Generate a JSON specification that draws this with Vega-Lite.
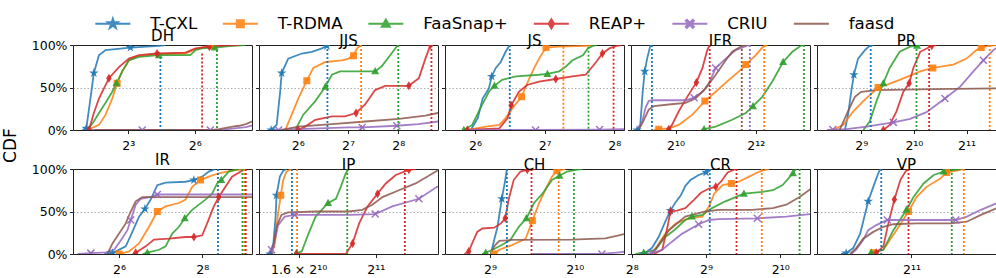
{
"$schema":"https://vega.github.io/schema/vega-lite/v6.json",
"padding":{"left":0,"top":15,"right":0,"bottom":0},
"datasets":{
"DH":[
{"series":"T-CXL","x":1.905,"cdf":0},{"series":"T-CXL","x":2.158,"cdf":0.02,"mk":1},{"series":"T-CXL","x":2.395,"cdf":0.3},{"series":"T-CXL","x":2.732,"cdf":0.67,"mk":1},{"series":"T-CXL","x":3.204,"cdf":0.88},{"series":"T-CXL","x":3.945,"cdf":0.94},{"series":"T-CXL","x":8.574,"cdf":0.97,"mk":1},{"series":"T-CXL","x":20.82,"cdf":0.99},{"series":"T-CXL","x":25.63,"cdf":1},
{"series":"T-RDMA","x":2.219,"cdf":0},{"series":"T-RDMA","x":3.204,"cdf":0.06},{"series":"T-RDMA","x":3.945,"cdf":0.18},{"series":"T-RDMA","x":4.857,"cdf":0.37},{"series":"T-RDMA","x":5.657,"cdf":0.55,"mk":1},{"series":"T-RDMA","x":6.634,"cdf":0.69},{"series":"T-RDMA","x":8.168,"cdf":0.82},{"series":"T-RDMA","x":10.06,"cdf":0.86},{"series":"T-RDMA","x":16.91,"cdf":0.89},{"series":"T-RDMA","x":47.84,"cdf":0.9},{"series":"T-RDMA","x":65.36,"cdf":0.95},{"series":"T-RDMA","x":89.26,"cdf":0.98},{"series":"T-RDMA","x":109.9,"cdf":0.99,"mk":1},{"series":"T-RDMA","x":135.3,"cdf":1},
{"series":"FaaSnap+","x":2.219,"cdf":0},{"series":"FaaSnap+","x":2.732,"cdf":0.1},{"series":"FaaSnap+","x":3.204,"cdf":0.2},{"series":"FaaSnap+","x":3.945,"cdf":0.32},{"series":"FaaSnap+","x":4.857,"cdf":0.45},{"series":"FaaSnap+","x":5.541,"cdf":0.55,"mk":1},{"series":"FaaSnap+","x":6.634,"cdf":0.69},{"series":"FaaSnap+","x":8.168,"cdf":0.82},{"series":"FaaSnap+","x":11.16,"cdf":0.86},{"series":"FaaSnap+","x":20.82,"cdf":0.88,"mk":1},{"series":"FaaSnap+","x":55.72,"cdf":0.88},{"series":"FaaSnap+","x":65.36,"cdf":0.94},{"series":"FaaSnap+","x":80.45,"cdf":0.96},{"series":"FaaSnap+","x":119.4,"cdf":0.97,"mk":1},{"series":"FaaSnap+","x":205.1,"cdf":0.99},{"series":"FaaSnap+","x":310.8,"cdf":1},
{"series":"REAP+","x":2.346,"cdf":0,"mk":1},{"series":"REAP+","x":2.732,"cdf":0.2},{"series":"REAP+","x":3.204,"cdf":0.37},{"series":"REAP+","x":4.377,"cdf":0.61,"mk":1},{"series":"REAP+","x":5.979,"cdf":0.74},{"series":"REAP+","x":8.168,"cdf":0.84},{"series":"REAP+","x":11.16,"cdf":0.88},{"series":"REAP+","x":19.7,"cdf":0.9,"mk":1},{"series":"REAP+","x":47.84,"cdf":0.91},{"series":"REAP+","x":65.36,"cdf":0.96},{"series":"REAP+","x":101.1,"cdf":0.98,"mk":1},{"series":"REAP+","x":166.6,"cdf":0.995},{"series":"REAP+","x":252.5,"cdf":1},
{"series":"CRIU","x":2.114,"cdf":0},{"series":"CRIU","x":12.38,"cdf":0,"mk":1},{"series":"CRIU","x":104,"cdf":0,"mk":1},{"series":"CRIU","x":157.6,"cdf":0.005},{"series":"CRIU","x":222.9,"cdf":0.02},{"series":"CRIU","x":315.2,"cdf":0.035},{"series":"CRIU","x":416,"cdf":0.06},
{"series":"faasd","x":2.83,"cdf":0},{"series":"faasd","x":111.4,"cdf":0},{"series":"faasd","x":137.2,"cdf":0.01},{"series":"faasd","x":168.9,"cdf":0.025},{"series":"faasd","x":207.9,"cdf":0.04},{"series":"faasd","x":256,"cdf":0.05},{"series":"faasd","x":315.2,"cdf":0.07},{"series":"faasd","x":382.7,"cdf":0.1},{"series":"faasd","x":416,"cdf":0.11}
],
"JJS":[
{"series":"T-CXL","x":44.32,"cdf":0,"mk":1},{"series":"T-CXL","x":47.84,"cdf":0.06},{"series":"T-CXL","x":50.21,"cdf":0.45},{"series":"T-CXL","x":51.27,"cdf":0.67,"mk":1},{"series":"T-CXL","x":56.11,"cdf":0.84},{"series":"T-CXL","x":67.66,"cdf":0.9},{"series":"T-CXL","x":77.71,"cdf":0.92},{"series":"T-CXL","x":89.26,"cdf":0.96},{"series":"T-CXL","x":95.67,"cdf":0.99,"mk":1},{"series":"T-CXL","x":97.68,"cdf":1},
{"series":"T-RDMA","x":53.82,"cdf":0},{"series":"T-RDMA","x":58.89,"cdf":0.18},{"series":"T-RDMA","x":64.45,"cdf":0.37},{"series":"T-RDMA","x":72.51,"cdf":0.58,"mk":1},{"series":"T-RDMA","x":79.34,"cdf":0.73},{"series":"T-RDMA","x":93.7,"cdf":0.8},{"series":"T-RDMA","x":117.8,"cdf":0.82},{"series":"T-RDMA","x":128.9,"cdf":0.84},{"series":"T-RDMA","x":138.1,"cdf":0.875,"mk":1},{"series":"T-RDMA","x":145,"cdf":0.96},{"series":"T-RDMA","x":153.3,"cdf":1},
{"series":"FaaSnap+","x":61.82,"cdf":0},{"series":"FaaSnap+","x":69.07,"cdf":0.18},{"series":"FaaSnap+","x":81.57,"cdf":0.34},{"series":"FaaSnap+","x":93.7,"cdf":0.51,"mk":1},{"series":"FaaSnap+","x":102.5,"cdf":0.65},{"series":"FaaSnap+","x":114.5,"cdf":0.69},{"series":"FaaSnap+","x":186.1,"cdf":0.69,"mk":1},{"series":"FaaSnap+","x":203.7,"cdf":0.75},{"series":"FaaSnap+","x":229.1,"cdf":0.88},{"series":"FaaSnap+","x":254.2,"cdf":1},
{"series":"REAP+","x":64.45,"cdf":0,"mk":1},{"series":"REAP+","x":71.01,"cdf":0.04},{"series":"REAP+","x":81.57,"cdf":0.12},{"series":"REAP+","x":102.5,"cdf":0.16},{"series":"REAP+","x":122.8,"cdf":0.16},{"series":"REAP+","x":143,"cdf":0.2,"mk":1},{"series":"REAP+","x":162,"cdf":0.3},{"series":"REAP+","x":186.1,"cdf":0.47},{"series":"REAP+","x":213.8,"cdf":0.52},{"series":"REAP+","x":296.1,"cdf":0.52,"mk":1},{"series":"REAP+","x":340.2,"cdf":0.61},{"series":"REAP+","x":372.2,"cdf":0.84},{"series":"REAP+","x":398.9,"cdf":1,"mk":1},
{"series":"CRIU","x":42.81,"cdf":0},{"series":"CRIU","x":49.18,"cdf":0,"mk":1},{"series":"CRIU","x":64,"cdf":0.01},{"series":"CRIU","x":128.9,"cdf":0.03},{"series":"CRIU","x":155.4,"cdf":0.03,"mk":1},{"series":"CRIU","x":250.7,"cdf":0.05,"mk":1},{"series":"CRIU","x":337.8,"cdf":0.07},{"series":"CRIU","x":442.7,"cdf":0.1},{"series":"CRIU","x":480,"cdf":0.11},
{"series":"faasd","x":51.27,"cdf":0},{"series":"faasd","x":64.45,"cdf":0.04},{"series":"faasd","x":102.5,"cdf":0.07},{"series":"faasd","x":162,"cdf":0.1},{"series":"faasd","x":257.8,"cdf":0.13},{"series":"faasd","x":372.2,"cdf":0.17},{"series":"faasd","x":442.7,"cdf":0.2},{"series":"faasd","x":480,"cdf":0.21}
],
"JS":[
{"series":"T-CXL","x":61.39,"cdf":0},{"series":"T-CXL","x":65.8,"cdf":0.14},{"series":"T-CXL","x":69.07,"cdf":0.37},{"series":"T-CXL","x":73.52,"cdf":0.49},{"series":"T-CXL","x":75.58,"cdf":0.63,"mk":1},{"series":"T-CXL","x":78.79,"cdf":0.73},{"series":"T-CXL","x":82.71,"cdf":0.8},{"series":"T-CXL","x":86.82,"cdf":0.92},{"series":"T-CXL","x":90.51,"cdf":1},
{"series":"T-RDMA","x":59.3,"cdf":0},{"series":"T-RDMA","x":71.51,"cdf":0.04},{"series":"T-RDMA","x":81.57,"cdf":0.06},{"series":"T-RDMA","x":86.82,"cdf":0.14},{"series":"T-RDMA","x":94.35,"cdf":0.28},{"series":"T-RDMA","x":101.8,"cdf":0.39,"mk":1},{"series":"T-RDMA","x":107.6,"cdf":0.55},{"series":"T-RDMA","x":115.4,"cdf":0.73},{"series":"T-RDMA","x":121.1,"cdf":0.84},{"series":"T-RDMA","x":129.8,"cdf":0.97,"mk":1},{"series":"T-RDMA","x":148.1,"cdf":0.98},{"series":"T-RDMA","x":192.7,"cdf":0.99},{"series":"T-RDMA","x":206.5,"cdf":1},
{"series":"FaaSnap+","x":57.28,"cdf":0,"mk":1},{"series":"FaaSnap+","x":62.25,"cdf":0.06},{"series":"FaaSnap+","x":67.66,"cdf":0.26},{"series":"FaaSnap+","x":73.52,"cdf":0.45},{"series":"FaaSnap+","x":77.71,"cdf":0.52,"mk":1},{"series":"FaaSnap+","x":83.87,"cdf":0.59},{"series":"FaaSnap+","x":96.34,"cdf":0.63},{"series":"FaaSnap+","x":121.1,"cdf":0.65},{"series":"FaaSnap+","x":131.6,"cdf":0.66,"mk":1},{"series":"FaaSnap+","x":148.1,"cdf":0.69},{"series":"FaaSnap+","x":158.7,"cdf":0.75},{"series":"FaaSnap+","x":168.9,"cdf":0.82},{"series":"FaaSnap+","x":187.4,"cdf":0.88},{"series":"FaaSnap+","x":196.7,"cdf":0.96},{"series":"FaaSnap+","x":206.5,"cdf":0.99},{"series":"FaaSnap+","x":215,"cdf":1},
{"series":"REAP+","x":59.3,"cdf":0,"mk":1},{"series":"REAP+","x":81.57,"cdf":0.02},{"series":"REAP+","x":88.65,"cdf":0.14},{"series":"REAP+","x":91.77,"cdf":0.29,"mk":1},{"series":"REAP+","x":99.04,"cdf":0.45},{"series":"REAP+","x":107.6,"cdf":0.53},{"series":"REAP+","x":121.1,"cdf":0.57},{"series":"REAP+","x":143,"cdf":0.6,"mk":1},{"series":"REAP+","x":168.9,"cdf":0.63},{"series":"REAP+","x":192.7,"cdf":0.65},{"series":"REAP+","x":213.8,"cdf":0.8},{"series":"REAP+","x":227.5,"cdf":0.9,"mk":1},{"series":"REAP+","x":243.8,"cdf":0.96},{"series":"REAP+","x":261.4,"cdf":0.99},{"series":"REAP+","x":274.4,"cdf":1},
{"series":"CRIU","x":59.7,"cdf":0},{"series":"CRIU","x":117,"cdf":0,"mk":1},{"series":"CRIU","x":221.3,"cdf":0.005,"mk":1},{"series":"CRIU","x":282,"cdf":0.01},{"series":"CRIU","x":315,"cdf":0.015}
],
"IFR":[
{"series":"T-CXL","x":526.5,"cdf":0,"mk":1},{"series":"T-CXL","x":556.6,"cdf":0.06},{"series":"T-CXL","x":580.1,"cdf":0.45},{"series":"T-CXL","x":600.6,"cdf":0.69,"mk":1},{"series":"T-CXL","x":626.2,"cdf":0.84},{"series":"T-CXL","x":661.5,"cdf":0.99},{"series":"T-CXL","x":680.4,"cdf":1},
{"series":"T-RDMA","x":700,"cdf":0},{"series":"T-RDMA","x":765.4,"cdf":0.01,"mk":1},{"series":"T-RDMA","x":910.3,"cdf":0.02},{"series":"T-RDMA","x":1082,"cdf":0.06},{"series":"T-RDMA","x":1370,"cdf":0.18},{"series":"T-RDMA","x":1699,"cdf":0.34,"mk":1},{"series":"T-RDMA","x":2048,"cdf":0.45},{"series":"T-RDMA","x":2574,"cdf":0.59},{"series":"T-RDMA","x":3061,"cdf":0.69},{"series":"T-RDMA","x":3444,"cdf":0.77,"mk":1},{"series":"T-RDMA","x":4096,"cdf":0.88},{"series":"T-RDMA","x":4575,"cdf":0.97},{"series":"T-RDMA","x":5010,"cdf":1},
{"series":"FaaSnap+","x":1600,"cdf":0},{"series":"FaaSnap+","x":1675,"cdf":0.01,"mk":1},{"series":"FaaSnap+","x":2048,"cdf":0.04},{"series":"FaaSnap+","x":2721,"cdf":0.12},{"series":"FaaSnap+","x":3444,"cdf":0.2},{"series":"FaaSnap+","x":3901,"cdf":0.28,"mk":1},{"series":"FaaSnap+","x":4575,"cdf":0.39},{"series":"FaaSnap+","x":5443,"cdf":0.57},{"series":"FaaSnap+","x":6562,"cdf":0.8,"mk":1},{"series":"FaaSnap+","x":7697,"cdf":0.92},{"series":"FaaSnap+","x":8905,"cdf":0.99},{"series":"FaaSnap+","x":9410,"cdf":1},
{"series":"REAP+","x":880,"cdf":0},{"series":"REAP+","x":910.3,"cdf":0.01,"mk":1},{"series":"REAP+","x":962.1,"cdf":0.06},{"series":"REAP+","x":1082,"cdf":0.22},{"series":"REAP+","x":1252,"cdf":0.39},{"series":"REAP+","x":1468,"cdf":0.56,"mk":1},{"series":"REAP+","x":1629,"cdf":0.73},{"series":"REAP+","x":1770,"cdf":0.94},{"series":"REAP+","x":1846,"cdf":1},
{"series":"CRIU","x":526.5,"cdf":0},{"series":"CRIU","x":576.1,"cdf":0.1},{"series":"CRIU","x":608.9,"cdf":0.26},{"series":"CRIU","x":643.6,"cdf":0.34},{"series":"CRIU","x":680.4,"cdf":0.35},{"series":"CRIU","x":1218,"cdf":0.35},{"series":"CRIU","x":1409,"cdf":0.38,"mk":1},{"series":"CRIU","x":1629,"cdf":0.45},{"series":"CRIU","x":1820,"cdf":0.55},{"series":"CRIU","x":2048,"cdf":0.73,"mk":1},{"series":"CRIU","x":2435,"cdf":0.84},{"series":"CRIU","x":2896,"cdf":0.94},{"series":"CRIU","x":3641,"cdf":1},
{"series":"faasd","x":541.2,"cdf":0},{"series":"faasd","x":592.3,"cdf":0.12},{"series":"faasd","x":643.6,"cdf":0.24},{"series":"faasd","x":704.3,"cdf":0.28},{"series":"faasd","x":910.3,"cdf":0.3},{"series":"faasd","x":1218,"cdf":0.32},{"series":"faasd","x":1448,"cdf":0.375},{"series":"faasd","x":1722,"cdf":0.49},{"series":"faasd","x":2048,"cdf":0.65},{"series":"faasd","x":2435,"cdf":0.82},{"series":"faasd","x":2721,"cdf":0.92},{"series":"faasd","x":3236,"cdf":0.99},{"series":"faasd","x":3444,"cdf":1}
],
"PR":[
{"series":"T-CXL","x":413,"cdf":0},{"series":"T-CXL","x":430.5,"cdf":0.18},{"series":"T-CXL","x":448.8,"cdf":0.45},{"series":"T-CXL","x":464.7,"cdf":0.65,"mk":1},{"series":"T-CXL","x":491.2,"cdf":0.84},{"series":"T-CXL","x":537.6,"cdf":0.94},{"series":"T-CXL","x":572,"cdf":0.99},{"series":"T-CXL","x":600.6,"cdf":1},
{"series":"T-RDMA","x":352.2,"cdf":0},{"series":"T-RDMA","x":404.5,"cdf":0.06},{"series":"T-RDMA","x":461.5,"cdf":0.22},{"series":"T-RDMA","x":526.5,"cdf":0.34},{"series":"T-RDMA","x":639,"cdf":0.5,"mk":1},{"series":"T-RDMA","x":714.2,"cdf":0.53},{"series":"T-RDMA","x":849.4,"cdf":0.59},{"series":"T-RDMA","x":1113,"cdf":0.69},{"series":"T-RDMA","x":1314,"cdf":0.73,"mk":1},{"series":"T-RDMA","x":1722,"cdf":0.77},{"series":"T-RDMA","x":2048,"cdf":0.84},{"series":"T-RDMA","x":2337,"cdf":0.94},{"series":"T-RDMA","x":2486,"cdf":0.97,"mk":1},{"series":"T-RDMA","x":2741,"cdf":0.99},{"series":"T-RDMA","x":3019,"cdf":1},
{"series":"FaaSnap+","x":526.5,"cdf":0},{"series":"FaaSnap+","x":572,"cdf":0.1},{"series":"FaaSnap+","x":626.2,"cdf":0.34},{"series":"FaaSnap+","x":685.1,"cdf":0.55,"mk":1},{"series":"FaaSnap+","x":744.4,"cdf":0.73},{"series":"FaaSnap+","x":849.4,"cdf":0.92},{"series":"FaaSnap+","x":975.4,"cdf":0.98},{"series":"FaaSnap+","x":1068,"cdf":0.99,"mk":1},{"series":"FaaSnap+","x":1113,"cdf":1},
{"series":"REAP+","x":685.1,"cdf":0,"mk":1},{"series":"REAP+","x":744.4,"cdf":0.06},{"series":"REAP+","x":814.6,"cdf":0.22},{"series":"REAP+","x":891.4,"cdf":0.45},{"series":"REAP+","x":962.1,"cdf":0.55,"mk":1},{"series":"REAP+","x":1017,"cdf":0.73},{"series":"REAP+","x":1113,"cdf":0.92},{"series":"REAP+","x":1269,"cdf":0.98},{"series":"REAP+","x":1296,"cdf":0.99,"mk":1},{"series":"REAP+","x":1380,"cdf":1},
{"series":"CRIU","x":326.2,"cdf":0},{"series":"CRIU","x":352.2,"cdf":0.005,"mk":1},{"series":"CRIU","x":421.6,"cdf":0.01},{"series":"CRIU","x":548.8,"cdf":0.04},{"series":"CRIU","x":781.3,"cdf":0.09,"mk":1},{"series":"CRIU","x":975.4,"cdf":0.13},{"series":"CRIU","x":1209,"cdf":0.21},{"series":"CRIU","x":1541,"cdf":0.37,"mk":1},{"series":"CRIU","x":1884,"cdf":0.51},{"series":"CRIU","x":2241,"cdf":0.69},{"series":"CRIU","x":2556,"cdf":0.82,"mk":1},{"series":"CRIU","x":2916,"cdf":0.94},{"series":"CRIU","x":3214,"cdf":1},
{"series":"faasd","x":385.3,"cdf":0},{"series":"faasd","x":421.6,"cdf":0.18},{"series":"faasd","x":471.1,"cdf":0.39},{"series":"faasd","x":512,"cdf":0.45},{"series":"faasd","x":626.2,"cdf":0.47},{"series":"faasd","x":1323,"cdf":0.48},{"series":"faasd","x":3019,"cdf":0.49},{"series":"faasd","x":3327,"cdf":0.49}
],
"IR":[
{"series":"T-CXL","x":50,"cdf":0},{"series":"T-CXL","x":57.28,"cdf":0.01,"mk":1},{"series":"T-CXL","x":71.51,"cdf":0.09},{"series":"T-CXL","x":79.89,"cdf":0.26},{"series":"T-CXL","x":89.26,"cdf":0.44},{"series":"T-CXL","x":98.37,"cdf":0.53,"mk":1},{"series":"T-CXL","x":108.4,"cdf":0.64},{"series":"T-CXL","x":121.1,"cdf":0.81},{"series":"T-CXL","x":139.1,"cdf":0.84},{"series":"T-CXL","x":194,"cdf":0.85},{"series":"T-CXL","x":222.9,"cdf":0.87,"mk":1},{"series":"T-CXL","x":256,"cdf":0.91},{"series":"T-CXL","x":286,"cdf":0.97},{"series":"T-CXL","x":319.6,"cdf":1},
{"series":"T-RDMA","x":64,"cdf":0,"mk":1},{"series":"T-RDMA","x":75.58,"cdf":0.03},{"series":"T-RDMA","x":89.26,"cdf":0.125},{"series":"T-RDMA","x":105.4,"cdf":0.32},{"series":"T-RDMA","x":121.1,"cdf":0.5,"mk":1},{"series":"T-RDMA","x":139.1,"cdf":0.56},{"series":"T-RDMA","x":173.7,"cdf":0.6},{"series":"T-RDMA","x":194,"cdf":0.64},{"series":"T-RDMA","x":216.7,"cdf":0.79},{"series":"T-RDMA","x":249,"cdf":0.87,"mk":1},{"series":"T-RDMA","x":286,"cdf":0.91},{"series":"T-RDMA","x":337.8,"cdf":0.95},{"series":"T-RDMA","x":421.6,"cdf":0.98},{"series":"T-RDMA","x":526.5,"cdf":1},
{"series":"FaaSnap+","x":95,"cdf":0},{"series":"FaaSnap+","x":102.5,"cdf":0.015,"mk":1},{"series":"FaaSnap+","x":124.5,"cdf":0.05},{"series":"FaaSnap+","x":139.1,"cdf":0.09},{"series":"FaaSnap+","x":155.4,"cdf":0.24},{"series":"FaaSnap+","x":173.7,"cdf":0.32},{"series":"FaaSnap+","x":191.4,"cdf":0.42,"mk":1},{"series":"FaaSnap+","x":216.7,"cdf":0.52},{"series":"FaaSnap+","x":270.6,"cdf":0.64},{"series":"FaaSnap+","x":302.3,"cdf":0.71},{"series":"FaaSnap+","x":328.6,"cdf":0.83},{"series":"FaaSnap+","x":352.2,"cdf":0.87,"mk":1},{"series":"FaaSnap+","x":398.9,"cdf":0.97},{"series":"FaaSnap+","x":471.1,"cdf":1},
{"series":"REAP+","x":80,"cdf":0},{"series":"REAP+","x":84.45,"cdf":0.015,"mk":1},{"series":"REAP+","x":99.74,"cdf":0.09},{"series":"REAP+","x":114.5,"cdf":0.17},{"series":"REAP+","x":147,"cdf":0.18},{"series":"REAP+","x":194,"cdf":0.2},{"series":"REAP+","x":222.9,"cdf":0.2,"mk":1},{"series":"REAP+","x":256,"cdf":0.22},{"series":"REAP+","x":278.2,"cdf":0.36},{"series":"REAP+","x":310.8,"cdf":0.56},{"series":"REAP+","x":337.8,"cdf":0.67,"mk":1},{"series":"REAP+","x":377.4,"cdf":0.79},{"series":"REAP+","x":421.6,"cdf":0.91},{"series":"REAP+","x":498,"cdf":0.98},{"series":"REAP+","x":526.5,"cdf":1},
{"series":"CRIU","x":32,"cdf":0},{"series":"CRIU","x":39.94,"cdf":0.01,"mk":1},{"series":"CRIU","x":51.27,"cdf":0.02},{"series":"CRIU","x":58.89,"cdf":0.05},{"series":"CRIU","x":65.8,"cdf":0.16},{"series":"CRIU","x":73.52,"cdf":0.28},{"series":"CRIU","x":77.71,"cdf":0.4,"mk":1},{"series":"CRIU","x":84.45,"cdf":0.58},{"series":"CRIU","x":91.77,"cdf":0.65},{"series":"CRIU","x":111.4,"cdf":0.675},{"series":"CRIU","x":121.1,"cdf":0.7,"mk":1},{"series":"CRIU","x":588.1,"cdf":0.7},{"series":"CRIU","x":675.6,"cdf":0.7},
{"series":"faasd","x":52.71,"cdf":0},{"series":"faasd","x":57.28,"cdf":0.125},{"series":"faasd","x":64,"cdf":0.24},{"series":"faasd","x":71.51,"cdf":0.36},{"series":"faasd","x":77.71,"cdf":0.5},{"series":"faasd","x":84.45,"cdf":0.62},{"series":"faasd","x":94.35,"cdf":0.67},{"series":"faasd","x":675.6,"cdf":0.67}
],
"IP":[
{"series":"T-CXL","x":1508,"cdf":0,"mk":1},{"series":"T-CXL","x":1523,"cdf":0.125},{"series":"T-CXL","x":1533,"cdf":0.44},{"series":"T-CXL","x":1537,"cdf":0.69,"mk":1},{"series":"T-CXL","x":1552,"cdf":0.91},{"series":"T-CXL","x":1567,"cdf":0.98},{"series":"T-CXL","x":1582,"cdf":1},
{"series":"T-RDMA","x":1515,"cdf":0},{"series":"T-RDMA","x":1530,"cdf":0.125},{"series":"T-RDMA","x":1542,"cdf":0.44},{"series":"T-RDMA","x":1556,"cdf":0.69,"mk":1},{"series":"T-RDMA","x":1567,"cdf":0.87},{"series":"T-RDMA","x":1582,"cdf":0.97},{"series":"T-RDMA","x":1605,"cdf":1},
{"series":"FaaSnap+","x":1620,"cdf":0},{"series":"FaaSnap+","x":1628,"cdf":0.01,"mk":1},{"series":"FaaSnap+","x":1653,"cdf":0.03},{"series":"FaaSnap+","x":1686,"cdf":0.24},{"series":"FaaSnap+","x":1721,"cdf":0.44},{"series":"FaaSnap+","x":1784,"cdf":0.6,"mk":1},{"series":"FaaSnap+","x":1825,"cdf":0.65},{"series":"FaaSnap+","x":1851,"cdf":0.79},{"series":"FaaSnap+","x":1878,"cdf":0.95},{"series":"FaaSnap+","x":1893,"cdf":1},
{"series":"REAP+","x":1628,"cdf":0,"mk":1},{"series":"REAP+","x":1721,"cdf":0},{"series":"REAP+","x":1878,"cdf":0},{"series":"REAP+","x":1915,"cdf":0.125,"mk":1},{"series":"REAP+","x":1952,"cdf":0.36},{"series":"REAP+","x":2000,"cdf":0.56},{"series":"REAP+","x":2059,"cdf":0.71,"mk":1},{"series":"REAP+","x":2108,"cdf":0.83},{"series":"REAP+","x":2170,"cdf":0.93},{"series":"REAP+","x":2254,"cdf":0.99,"mk":1},{"series":"REAP+","x":2298,"cdf":1},
{"series":"CRIU","x":1500,"cdf":0},{"series":"CRIU","x":1515,"cdf":0.05,"mk":1},{"series":"CRIU","x":1530,"cdf":0.165},{"series":"CRIU","x":1544,"cdf":0.34},{"series":"CRIU","x":1574,"cdf":0.44},{"series":"CRIU","x":1620,"cdf":0.46,"mk":1},{"series":"CRIU","x":1895,"cdf":0.46},{"series":"CRIU","x":2045,"cdf":0.47,"mk":1},{"series":"CRIU","x":2148,"cdf":0.56},{"series":"CRIU","x":2320,"cdf":0.65,"mk":1},{"series":"CRIU","x":2446,"cdf":0.79},{"series":"CRIU","x":2500,"cdf":0.82},
{"series":"faasd","x":1508,"cdf":0},{"series":"faasd","x":1523,"cdf":0.09},{"series":"faasd","x":1537,"cdf":0.32},{"series":"faasd","x":1559,"cdf":0.46},{"series":"faasd","x":1589,"cdf":0.49},{"series":"faasd","x":1721,"cdf":0.5},{"series":"faasd","x":1895,"cdf":0.5},{"series":"faasd","x":1969,"cdf":0.52},{"series":"faasd","x":2028,"cdf":0.58},{"series":"faasd","x":2088,"cdf":0.67},{"series":"faasd","x":2190,"cdf":0.75},{"series":"faasd","x":2298,"cdf":0.83},{"series":"faasd","x":2446,"cdf":0.98},{"series":"faasd","x":2480,"cdf":1}
],
"CH":[
{"series":"T-CXL","x":515.6,"cdf":0},{"series":"T-CXL","x":529.9,"cdf":0.165},{"series":"T-CXL","x":544.7,"cdf":0.32},{"series":"T-CXL","x":564.1,"cdf":0.65,"mk":1},{"series":"T-CXL","x":580.1,"cdf":0.87},{"series":"T-CXL","x":588.1,"cdf":1},
{"series":"T-RDMA","x":529.9,"cdf":0,"mk":1},{"series":"T-RDMA","x":552.5,"cdf":0.05},{"series":"T-RDMA","x":613,"cdf":0.105},{"series":"T-RDMA","x":685.1,"cdf":0.18},{"series":"T-RDMA","x":724.1,"cdf":0.39,"mk":1},{"series":"T-RDMA","x":765.4,"cdf":0.6},{"series":"T-RDMA","x":803.5,"cdf":0.75},{"series":"T-RDMA","x":849.4,"cdf":0.91},{"series":"T-RDMA","x":885.3,"cdf":0.98,"mk":1},{"series":"T-RDMA","x":948.9,"cdf":1},
{"series":"FaaSnap+","x":480,"cdf":0},{"series":"FaaSnap+","x":494.5,"cdf":0.015,"mk":1},{"series":"FaaSnap+","x":522.8,"cdf":0.05},{"series":"FaaSnap+","x":564.1,"cdf":0.105},{"series":"FaaSnap+","x":604.7,"cdf":0.165},{"series":"FaaSnap+","x":648.2,"cdf":0.32},{"series":"FaaSnap+","x":689.8,"cdf":0.42,"mk":1},{"series":"FaaSnap+","x":734,"cdf":0.6},{"series":"FaaSnap+","x":786.7,"cdf":0.71},{"series":"FaaSnap+","x":849.4,"cdf":0.87},{"series":"FaaSnap+","x":903.8,"cdf":0.92,"mk":1},{"series":"FaaSnap+","x":962.1,"cdf":0.97},{"series":"FaaSnap+","x":1031,"cdf":0.99},{"series":"FaaSnap+","x":1090,"cdf":1},
{"series":"REAP+","x":416,"cdf":0},{"series":"REAP+","x":430.5,"cdf":0.03,"mk":1},{"series":"REAP+","x":442.7,"cdf":0.125},{"series":"REAP+","x":461.5,"cdf":0.26},{"series":"REAP+","x":481,"cdf":0.3},{"series":"REAP+","x":529.9,"cdf":0.31},{"series":"REAP+","x":560.2,"cdf":0.36},{"series":"REAP+","x":580.1,"cdf":0.42,"mk":1},{"series":"REAP+","x":596.5,"cdf":0.64},{"series":"REAP+","x":621.6,"cdf":0.87},{"series":"REAP+","x":657.1,"cdf":0.97},{"series":"REAP+","x":694.6,"cdf":0.99,"mk":1},{"series":"REAP+","x":744.4,"cdf":1},
{"series":"CRIU","x":724.1,"cdf":0},{"series":"CRIU","x":1278,"cdf":0,"mk":1},{"series":"CRIU","x":1468,"cdf":0.02},{"series":"CRIU","x":1664,"cdf":0.04},
{"series":"faasd","x":515.6,"cdf":0},{"series":"faasd","x":529.9,"cdf":0.09},{"series":"faasd","x":552.5,"cdf":0.155},{"series":"faasd","x":613,"cdf":0.165},{"series":"faasd","x":1003,"cdf":0.17},{"series":"faasd","x":1314,"cdf":0.185},{"series":"faasd","x":1468,"cdf":0.22},{"series":"faasd","x":1531,"cdf":0.235},{"series":"faasd","x":1664,"cdf":0.25}
],
"CR":[
{"series":"T-CXL","x":286,"cdf":0,"mk":1},{"series":"T-CXL","x":308.7,"cdf":0.07},{"series":"T-CXL","x":328.6,"cdf":0.2},{"series":"T-CXL","x":349.8,"cdf":0.38},{"series":"T-CXL","x":367.1,"cdf":0.51,"mk":1},{"series":"T-CXL","x":385.3,"cdf":0.61},{"series":"T-CXL","x":404.5,"cdf":0.69},{"series":"T-CXL","x":421.6,"cdf":0.8},{"series":"T-CXL","x":442.7,"cdf":0.87},{"series":"T-CXL","x":477.7,"cdf":0.93},{"series":"T-CXL","x":512,"cdf":0.96,"mk":1},{"series":"T-CXL","x":526.5,"cdf":0.99},{"series":"T-CXL","x":537.6,"cdf":1},
{"series":"T-RDMA","x":304.4,"cdf":0},{"series":"T-RDMA","x":324.1,"cdf":0.09},{"series":"T-RDMA","x":349.8,"cdf":0.24},{"series":"T-RDMA","x":385.3,"cdf":0.36},{"series":"T-RDMA","x":436.5,"cdf":0.42},{"series":"T-RDMA","x":494.5,"cdf":0.44},{"series":"T-RDMA","x":526.5,"cdf":0.56},{"series":"T-RDMA","x":552.5,"cdf":0.71},{"series":"T-RDMA","x":596.5,"cdf":0.81},{"series":"T-RDMA","x":648.2,"cdf":0.83,"mk":1},{"series":"T-RDMA","x":694.6,"cdf":0.85},{"series":"T-RDMA","x":765.4,"cdf":0.91},{"series":"T-RDMA","x":843.3,"cdf":0.97},{"series":"T-RDMA","x":923.1,"cdf":1},
{"series":"FaaSnap+","x":265,"cdf":0},{"series":"FaaSnap+","x":286,"cdf":0.015,"mk":1},{"series":"FaaSnap+","x":319.6,"cdf":0.05},{"series":"FaaSnap+","x":349.8,"cdf":0.2},{"series":"FaaSnap+","x":380,"cdf":0.28},{"series":"FaaSnap+","x":421.6,"cdf":0.4},{"series":"FaaSnap+","x":448.8,"cdf":0.44,"mk":1},{"series":"FaaSnap+","x":494.5,"cdf":0.46},{"series":"FaaSnap+","x":541.2,"cdf":0.54},{"series":"FaaSnap+","x":613,"cdf":0.62},{"series":"FaaSnap+","x":729.1,"cdf":0.71,"mk":1},{"series":"FaaSnap+","x":866.8,"cdf":0.73},{"series":"FaaSnap+","x":955.4,"cdf":0.75},{"series":"FaaSnap+","x":1046,"cdf":0.81},{"series":"FaaSnap+","x":1152,"cdf":0.95,"mk":1},{"series":"FaaSnap+","x":1185,"cdf":1},
{"series":"REAP+","x":315.2,"cdf":0},{"series":"REAP+","x":340.2,"cdf":0.05},{"series":"REAP+","x":357.2,"cdf":0.32},{"series":"REAP+","x":367.1,"cdf":0.5,"mk":1},{"series":"REAP+","x":390.7,"cdf":0.51},{"series":"REAP+","x":421.6,"cdf":0.54},{"series":"REAP+","x":458.3,"cdf":0.64},{"series":"REAP+","x":487.7,"cdf":0.72},{"series":"REAP+","x":526.5,"cdf":0.77},{"series":"REAP+","x":560.2,"cdf":0.79,"mk":1},{"series":"REAP+","x":588.1,"cdf":0.85},{"series":"REAP+","x":626.2,"cdf":0.96},{"series":"REAP+","x":675.6,"cdf":1},
{"series":"CRIU","x":294,"cdf":0},{"series":"CRIU","x":308.7,"cdf":0.01,"mk":1},{"series":"CRIU","x":340.2,"cdf":0.05},{"series":"CRIU","x":372.2,"cdf":0.145},{"series":"CRIU","x":410.1,"cdf":0.24},{"series":"CRIU","x":477.7,"cdf":0.35,"mk":1},{"series":"CRIU","x":526.5,"cdf":0.4},{"series":"CRIU","x":576.1,"cdf":0.41},{"series":"CRIU","x":826,"cdf":0.42,"mk":1},{"series":"CRIU","x":1082,"cdf":0.44},{"series":"CRIU","x":1351,"cdf":0.47},{"series":"CRIU","x":1448,"cdf":0.48},
{"series":"faasd","x":308.7,"cdf":0},{"series":"faasd","x":328.6,"cdf":0.11},{"series":"faasd","x":362,"cdf":0.28},{"series":"faasd","x":421.6,"cdf":0.44},{"series":"faasd","x":508.4,"cdf":0.5},{"series":"faasd","x":576.1,"cdf":0.52},{"series":"faasd","x":786.7,"cdf":0.52},{"series":"faasd","x":955.4,"cdf":0.54},{"series":"faasd","x":1082,"cdf":0.58},{"series":"faasd","x":1226,"cdf":0.67},{"series":"faasd","x":1351,"cdf":0.76},{"series":"faasd","x":1448,"cdf":0.82}
],
"VP":[
{"series":"T-CXL","x":1261,"cdf":0},{"series":"T-CXL","x":1305,"cdf":0.01,"mk":1},{"series":"T-CXL","x":1370,"cdf":0.07},{"series":"T-CXL","x":1438,"cdf":0.24},{"series":"T-CXL","x":1520,"cdf":0.62,"mk":1},{"series":"T-CXL","x":1574,"cdf":0.79},{"series":"T-CXL","x":1629,"cdf":0.95},{"series":"T-CXL","x":1652,"cdf":1},
{"series":"T-RDMA","x":1540,"cdf":0},{"series":"T-RDMA","x":1574,"cdf":0.015,"mk":1},{"series":"T-RDMA","x":1687,"cdf":0.05},{"series":"T-RDMA","x":1846,"cdf":0.28},{"series":"T-RDMA","x":2006,"cdf":0.5,"mk":1},{"series":"T-RDMA","x":2120,"cdf":0.67},{"series":"T-RDMA","x":2273,"cdf":0.79},{"series":"T-RDMA","x":2505,"cdf":0.89},{"series":"T-RDMA","x":2610,"cdf":0.96,"mk":1},{"series":"T-RDMA","x":2797,"cdf":0.98},{"series":"T-RDMA","x":2937,"cdf":1},
{"series":"FaaSnap+","x":1520,"cdf":0},{"series":"FaaSnap+","x":1552,"cdf":0.015,"mk":1},{"series":"FaaSnap+","x":1687,"cdf":0.05},{"series":"FaaSnap+","x":1808,"cdf":0.28},{"series":"FaaSnap+","x":1978,"cdf":0.52,"mk":1},{"series":"FaaSnap+","x":2077,"cdf":0.67},{"series":"FaaSnap+","x":2226,"cdf":0.83},{"series":"FaaSnap+","x":2386,"cdf":0.93},{"series":"FaaSnap+","x":2556,"cdf":0.97,"mk":1},{"series":"FaaSnap+","x":2741,"cdf":0.99},{"series":"FaaSnap+","x":2876,"cdf":1},
{"series":"REAP+","x":1552,"cdf":0},{"series":"REAP+","x":1607,"cdf":0.015,"mk":1},{"series":"REAP+","x":1687,"cdf":0.09},{"series":"REAP+","x":1746,"cdf":0.36},{"series":"REAP+","x":1820,"cdf":0.64,"mk":1},{"series":"REAP+","x":1897,"cdf":0.87},{"series":"REAP+","x":1965,"cdf":0.97},{"series":"REAP+","x":2006,"cdf":1},
{"series":"CRIU","x":1351,"cdf":0},{"series":"CRIU","x":1399,"cdf":0.05},{"series":"CRIU","x":1468,"cdf":0.165},{"series":"CRIU","x":1520,"cdf":0.28},{"series":"CRIU","x":1607,"cdf":0.34},{"series":"CRIU","x":1734,"cdf":0.4,"mk":1},{"series":"CRIU","x":1897,"cdf":0.4},{"series":"CRIU","x":2386,"cdf":0.4},{"series":"CRIU","x":2779,"cdf":0.4,"mk":1},{"series":"CRIU","x":2998,"cdf":0.44},{"series":"CRIU","x":3304,"cdf":0.52},{"series":"CRIU","x":3692,"cdf":0.6},{"series":"CRIU","x":3957,"cdf":0.63},
{"series":"faasd","x":1342,"cdf":0},{"series":"faasd","x":1399,"cdf":0.07},{"series":"faasd","x":1468,"cdf":0.18},{"series":"faasd","x":1574,"cdf":0.26},{"series":"faasd","x":1687,"cdf":0.32},{"series":"faasd","x":1808,"cdf":0.35},{"series":"faasd","x":2120,"cdf":0.36},{"series":"faasd","x":2684,"cdf":0.36},{"series":"faasd","x":2998,"cdf":0.38},{"series":"faasd","x":3304,"cdf":0.46},{"series":"faasd","x":3692,"cdf":0.54},{"series":"faasd","x":3957,"cdf":0.58}
],
"vlines":[
{"panel":"DH","series":"T-CXL","x":21.86,"top":0.86},{"panel":"DH","series":"REAP+","x":80.45,"top":0.9},{"panel":"DH","series":"FaaSnap+","x":128,"top":0.94},
{"panel":"JJS","series":"T-CXL","x":96.34,"top":1},{"panel":"JJS","series":"T-RDMA","x":153.3,"top":1},{"panel":"JJS","series":"FaaSnap+","x":256,"top":1},{"panel":"JJS","series":"REAP+","x":404.5,"top":1},
{"panel":"JS","series":"T-CXL","x":90.51,"top":1},{"panel":"JS","series":"T-RDMA","x":154.3,"top":0.98},{"panel":"JS","series":"FaaSnap+","x":198.1,"top":0.98},{"panel":"JS","series":"REAP+","x":254.2,"top":0.98},
{"panel":"IFR","series":"T-CXL","x":680.4,"top":1},{"panel":"IFR","series":"REAP+","x":1846,"top":1},{"panel":"IFR","series":"faasd","x":3214,"top":1},{"panel":"IFR","series":"CRIU","x":3692,"top":1},{"panel":"IFR","series":"T-RDMA","x":4735,"top":1},{"panel":"IFR","series":"FaaSnap+","x":9410,"top":1},
{"panel":"PR","series":"T-CXL","x":580.1,"top":1},{"panel":"PR","series":"FaaSnap+","x":1060,"top":1},{"panel":"PR","series":"REAP+","x":1252,"top":1},{"panel":"PR","series":"T-RDMA","x":2779,"top":1},
{"panel":"IR","series":"T-CXL","x":333.2,"top":1},{"panel":"IR","series":"FaaSnap+","x":501.5,"top":1},{"panel":"IR","series":"T-RDMA","x":515.6,"top":1},{"panel":"IR","series":"REAP+","x":529.9,"top":1},
{"panel":"IP","series":"T-CXL","x":1607,"top":1},{"panel":"IP","series":"T-RDMA","x":1631,"top":1},{"panel":"IP","series":"FaaSnap+","x":1886,"top":1},{"panel":"IP","series":"REAP+","x":2228,"top":1},
{"panel":"CH","series":"T-CXL","x":588.1,"top":1},{"panel":"CH","series":"REAP+","x":719,"top":1},{"panel":"CH","series":"T-RDMA","x":897.7,"top":1},{"panel":"CH","series":"FaaSnap+","x":1017,"top":1},
{"panel":"CR","series":"T-CXL","x":529.9,"top":1},{"panel":"CR","series":"REAP+","x":680.4,"top":1},{"panel":"CR","series":"T-RDMA","x":861.1,"top":1},{"panel":"CR","series":"FaaSnap+","x":1226,"top":1},
{"panel":"VP","series":"T-CXL","x":1663,"top":1},{"panel":"VP","series":"REAP+","x":2006,"top":1},{"panel":"VP","series":"FaaSnap+","x":2703,"top":1},{"panel":"VP","series":"T-RDMA","x":2937,"top":1}
]
},
"config":{
"font":"DejaVu Sans",
"view":{"stroke":"#222","strokeWidth":1},
"axis":{"domain":false,"tickColor":"#222","tickSize":3.5,"labelFontSize":12.5,"labelColor":"#000","labelFont":"DejaVu Sans","titleFont":"DejaVu Sans","titleFontWeight":"normal","titleFontSize":17,"titleColor":"#000","grid":false},
"axisX":{"labelFlush":false,"labelPadding":6,"labelOverlap":false,"title":null},
"axisY":{"labelPadding":2.5},
"title":{"fontSize":15,"fontWeight":"normal","font":"DejaVu Sans","color":"#000","offset":4,"frame":"group","baseline":"alphabetic","dy":9},
"legend":{"labelFont":"DejaVu Sans","labelFontSize":16.7,"labelColor":"#000"}
},
"columns":5,
"spacing":{"row":39,"column":7},
"bounds":"flush",
"concat":[
{"title":"DH","width":179,"height":85,
"encoding":{
"x":{"field":"x","type":"quantitative","scale":{"type":"log","base":2,"domain":[1.424,382.7],"nice":false},"axis":{"values":[8,64],"labelExpr":"datum.value==8?'2³':'2⁶'"}},
"y":{"field":"cdf","type":"quantitative","scale":{"domain":[0,1],"nice":false},"axis":{"values":[0,0.5,1],"format":".0%","title":"CDF","titleX":-58,"titleY":100,"titleBaseline":"alphabetic","grid":true,"gridDash":[1.5,2],"gridColor":"#999","gridWidth":0.8,"gridOpacity":{"condition":{"test":"datum.value===0.5","value":1},"value":0}}},
"color":{"field":"series","type":"nominal","scale":{"domain":["T-CXL","T-RDMA","FaaSnap+","REAP+","CRIU","faasd"],"range":["#1f77b4","#ff7f0e","#2ca02c","#d62728","#9467bd","#8c564b"]},
"legend":{"orient":"none","legendX":31.5,"legendY":-30,"direction":"horizontal","columns":6,"title":null,"symbolSize":100,"symbolStrokeWidth":2,"labelOffset":29,"columnPadding":20.5,"padding":0}}
},
"layer":[
{"data":{"name":"DH"},"mark":{"type":"line","clip":true,"strokeWidth":1.8,"opacity":0.85},"encoding":{}},
{"data":{"name":"vlines"},"transform":[{"filter":"datum.panel==='DH'"}],"mark":{"type":"rule","strokeDash":[2,2],"strokeWidth":1.8},"encoding":{"y":{"field":"top","type":"quantitative"},"y2":{"datum":0}}},
{"data":{"name":"DH"},"transform":[{"filter":"datum.mk===1"}],"mark":{"type":"point","filled":true,"size":100,"opacity":0.9,"clip":true},"encoding":{"shape":{"field":"series","type":"nominal","scale":{"domain":["T-CXL","T-RDMA","FaaSnap+","REAP+","CRIU","faasd"],"range":["M-3.5,0L3.5,0M0,-1L0.223,-0.307L0.951,-0.309L0.361,0.117L0.588,0.809L0,0.38L-0.588,0.809L-0.361,0.117L-0.951,-0.309L-0.223,-0.307Z","M-3.5,0L3.5,0M-0.7,-0.7L0.7,-0.7L0.7,0.7L-0.7,0.7Z","M-3.5,0L3.5,0M0,-0.85L0.8,0.6L-0.8,0.6Z","M-3.5,0L3.5,0M0,-0.9L0.55,0L0,0.9L-0.55,0Z","M-3.5,0L3.5,0M0,-0.212L0.594,-0.806L0.806,-0.594L0.212,0L0.806,0.594L0.594,0.806L0,0.212L-0.594,0.806L-0.806,0.594L-0.212,0L-0.806,-0.594L-0.594,-0.806Z","M-3.5,0L3.5,0"]},"legend":null}}}
]},
{"title":"JJS","width":179,"height":85,
"encoding":{
"x":{"field":"x","type":"quantitative","scale":{"type":"log","base":2,"domain":[37.5,442.7],"nice":false},"axis":{"values":[64,128,256],"labelExpr":"datum.value==64?'2⁶':datum.value==128?'2⁷':'2⁸'"}},
"y":{"field":"cdf","type":"quantitative","scale":{"domain":[0,1],"nice":false},"axis":{"values":[0,0.5,1],"labels":false,"title":null,"grid":true,"gridDash":[1.5,2],"gridColor":"#999","gridWidth":0.8,"gridOpacity":{"condition":{"test":"datum.value===0.5","value":1},"value":0}}},
"color":{"field":"series","type":"nominal","legend":null}
},
"layer":[
{"data":{"name":"JJS"},"mark":{"type":"line","clip":true,"strokeWidth":1.8,"opacity":0.85},"encoding":{}},
{"data":{"name":"vlines"},"transform":[{"filter":"datum.panel==='JJS'"}],"mark":{"type":"rule","strokeDash":[2,2],"strokeWidth":1.8},"encoding":{"y":{"field":"top","type":"quantitative"},"y2":{"datum":0}}},
{"data":{"name":"JJS"},"transform":[{"filter":"datum.mk===1"}],"mark":{"type":"point","filled":true,"size":100,"opacity":0.9,"clip":true},"encoding":{"shape":{"field":"series","type":"nominal","legend":null}}}
]},
{"title":"JS","width":179,"height":85,
"encoding":{
"x":{"field":"x","type":"quantitative","scale":{"type":"log","base":2,"domain":[47.5,282],"nice":false},"axis":{"values":[64,128,256],"labelExpr":"datum.value==64?'2⁶':datum.value==128?'2⁷':'2⁸'"}},
"y":{"field":"cdf","type":"quantitative","scale":{"domain":[0,1],"nice":false},"axis":{"values":[0,0.5,1],"labels":false,"title":null,"grid":true,"gridDash":[1.5,2],"gridColor":"#999","gridWidth":0.8,"gridOpacity":{"condition":{"test":"datum.value===0.5","value":1},"value":0}}},
"color":{"field":"series","type":"nominal","legend":null}
},
"layer":[
{"data":{"name":"JS"},"mark":{"type":"line","clip":true,"strokeWidth":1.8,"opacity":0.85},"encoding":{}},
{"data":{"name":"vlines"},"transform":[{"filter":"datum.panel==='JS'"}],"mark":{"type":"rule","strokeDash":[2,2],"strokeWidth":1.8},"encoding":{"y":{"field":"top","type":"quantitative"},"y2":{"datum":0}}},
{"data":{"name":"JS"},"transform":[{"filter":"datum.mk===1"}],"mark":{"type":"point","filled":true,"size":100,"opacity":0.9,"clip":true},"encoding":{"shape":{"field":"series","type":"nominal","legend":null}}}
]},
{"title":"IFR","width":179,"height":85,
"encoding":{
"x":{"field":"x","type":"quantitative","scale":{"type":"log","base":2,"domain":[474,10440],"nice":false},"axis":{"values":[1024,4096],"labelExpr":"datum.value==1024?'2¹⁰':'2¹²'"}},
"y":{"field":"cdf","type":"quantitative","scale":{"domain":[0,1],"nice":false},"axis":{"values":[0,0.5,1],"labels":false,"title":null,"grid":true,"gridDash":[1.5,2],"gridColor":"#999","gridWidth":0.8,"gridOpacity":{"condition":{"test":"datum.value===0.5","value":1},"value":0}}},
"color":{"field":"series","type":"nominal","legend":null}
},
"layer":[
{"data":{"name":"IFR"},"mark":{"type":"line","clip":true,"strokeWidth":1.8,"opacity":0.85},"encoding":{}},
{"data":{"name":"vlines"},"transform":[{"filter":"datum.panel==='IFR'"}],"mark":{"type":"rule","strokeDash":[2,2],"strokeWidth":1.8},"encoding":{"y":{"field":"top","type":"quantitative"},"y2":{"datum":0}}},
{"data":{"name":"IFR"},"transform":[{"filter":"datum.mk===1"}],"mark":{"type":"point","filled":true,"size":100,"opacity":0.9,"clip":true},"encoding":{"shape":{"field":"series","type":"nominal","legend":null}}}
]},
{"title":"PR","width":179,"height":85,
"encoding":{
"x":{"field":"x","type":"quantitative","scale":{"type":"log","base":2,"domain":[286,3019],"nice":false},"axis":{"values":[512,1024,2048],"labelExpr":"datum.value==512?'2⁹':datum.value==1024?'2¹⁰':'2¹¹'"}},
"y":{"field":"cdf","type":"quantitative","scale":{"domain":[0,1],"nice":false},"axis":{"values":[0,0.5,1],"labels":false,"title":null,"grid":true,"gridDash":[1.5,2],"gridColor":"#999","gridWidth":0.8,"gridOpacity":{"condition":{"test":"datum.value===0.5","value":1},"value":0}}},
"color":{"field":"series","type":"nominal","legend":null}
},
"layer":[
{"data":{"name":"PR"},"mark":{"type":"line","clip":true,"strokeWidth":1.8,"opacity":0.85},"encoding":{}},
{"data":{"name":"vlines"},"transform":[{"filter":"datum.panel==='PR'"}],"mark":{"type":"rule","strokeDash":[2,2],"strokeWidth":1.8},"encoding":{"y":{"field":"top","type":"quantitative"},"y2":{"datum":0}}},
{"data":{"name":"PR"},"transform":[{"filter":"datum.mk===1"}],"mark":{"type":"point","filled":true,"size":100,"opacity":0.9,"clip":true},"encoding":{"shape":{"field":"series","type":"nominal","legend":null}}}
]},
{"title":"IR","width":179,"height":85,
"encoding":{
"x":{"field":"x","type":"quantitative","scale":{"type":"log","base":2,"domain":[29.65,588],"nice":false},"axis":{"values":[64,256],"labelExpr":"datum.value==64?'2⁶':'2⁸'"}},
"y":{"field":"cdf","type":"quantitative","scale":{"domain":[0,1],"nice":false},"axis":{"values":[0,0.5,1],"format":".0%","title":null,"grid":true,"gridDash":[1.5,2],"gridColor":"#999","gridWidth":0.8,"gridOpacity":{"condition":{"test":"datum.value===0.5","value":1},"value":0}}},
"color":{"field":"series","type":"nominal","legend":null}
},
"layer":[
{"data":{"name":"IR"},"mark":{"type":"line","clip":true,"strokeWidth":1.8,"opacity":0.85},"encoding":{}},
{"data":{"name":"vlines"},"transform":[{"filter":"datum.panel==='IR'"}],"mark":{"type":"rule","strokeDash":[2,2],"strokeWidth":1.8},"encoding":{"y":{"field":"top","type":"quantitative"},"y2":{"datum":0}}},
{"data":{"name":"IR"},"transform":[{"filter":"datum.mk===1"}],"mark":{"type":"point","filled":true,"size":100,"opacity":0.9,"clip":true},"encoding":{"shape":{"field":"series","type":"nominal","legend":null}}}
]},
{"title":"IP","width":179,"height":85,
"encoding":{
"x":{"field":"x","type":"quantitative","scale":{"type":"log","base":2,"domain":[1461,2452],"nice":false},"axis":{"values":[1638.4,2048],"labelExpr":"datum.value<2000?'1.6 × 2¹⁰':'2¹¹'"}},
"y":{"field":"cdf","type":"quantitative","scale":{"domain":[0,1],"nice":false},"axis":{"values":[0,0.5,1],"labels":false,"title":null,"grid":true,"gridDash":[1.5,2],"gridColor":"#999","gridWidth":0.8,"gridOpacity":{"condition":{"test":"datum.value===0.5","value":1},"value":0}}},
"color":{"field":"series","type":"nominal","legend":null}
},
"layer":[
{"data":{"name":"IP"},"mark":{"type":"line","clip":true,"strokeWidth":1.8,"opacity":0.85},"encoding":{}},
{"data":{"name":"vlines"},"transform":[{"filter":"datum.panel==='IP'"}],"mark":{"type":"rule","strokeDash":[2,2],"strokeWidth":1.8},"encoding":{"y":{"field":"top","type":"quantitative"},"y2":{"datum":0}}},
{"data":{"name":"IP"},"transform":[{"filter":"datum.mk===1"}],"mark":{"type":"point","filled":true,"size":100,"opacity":0.9,"clip":true},"encoding":{"shape":{"field":"series","type":"nominal","legend":null}}}
]},
{"title":"CH","width":179,"height":85,
"encoding":{
"x":{"field":"x","type":"quantitative","scale":{"type":"log","base":2,"domain":[354.6,1531],"nice":false},"axis":{"values":[512,1024],"labelExpr":"datum.value==512?'2⁹':'2¹⁰'"}},
"y":{"field":"cdf","type":"quantitative","scale":{"domain":[0,1],"nice":false},"axis":{"values":[0,0.5,1],"labels":false,"title":null,"grid":true,"gridDash":[1.5,2],"gridColor":"#999","gridWidth":0.8,"gridOpacity":{"condition":{"test":"datum.value===0.5","value":1},"value":0}}},
"color":{"field":"series","type":"nominal","legend":null}
},
"layer":[
{"data":{"name":"CH"},"mark":{"type":"line","clip":true,"strokeWidth":1.8,"opacity":0.85},"encoding":{}},
{"data":{"name":"vlines"},"transform":[{"filter":"datum.panel==='CH'"}],"mark":{"type":"rule","strokeDash":[2,2],"strokeWidth":1.8},"encoding":{"y":{"field":"top","type":"quantitative"},"y2":{"datum":0}}},
{"data":{"name":"CH"},"transform":[{"filter":"datum.mk===1"}],"mark":{"type":"point","filled":true,"size":100,"opacity":0.9,"clip":true},"encoding":{"shape":{"field":"series","type":"nominal","legend":null}}}
]},
{"title":"CR","width":179,"height":85,
"encoding":{
"x":{"field":"x","type":"quantitative","scale":{"type":"log","base":2,"domain":[254,1351],"nice":false},"axis":{"values":[256,512,1024],"labelExpr":"datum.value==256?'2⁸':datum.value==512?'2⁹':'2¹⁰'"}},
"y":{"field":"cdf","type":"quantitative","scale":{"domain":[0,1],"nice":false},"axis":{"values":[0,0.5,1],"labels":false,"title":null,"grid":true,"gridDash":[1.5,2],"gridColor":"#999","gridWidth":0.8,"gridOpacity":{"condition":{"test":"datum.value===0.5","value":1},"value":0}}},
"color":{"field":"series","type":"nominal","legend":null}
},
"layer":[
{"data":{"name":"CR"},"mark":{"type":"line","clip":true,"strokeWidth":1.8,"opacity":0.85},"encoding":{}},
{"data":{"name":"vlines"},"transform":[{"filter":"datum.panel==='CR'"}],"mark":{"type":"rule","strokeDash":[2,2],"strokeWidth":1.8},"encoding":{"y":{"field":"top","type":"quantitative"},"y2":{"datum":0}}},
{"data":{"name":"CR"},"transform":[{"filter":"datum.mk===1"}],"mark":{"type":"point","filled":true,"size":100,"opacity":0.9,"clip":true},"encoding":{"shape":{"field":"series","type":"nominal","legend":null}}}
]},
{"title":"VP","width":179,"height":85,
"encoding":{
"x":{"field":"x","type":"quantitative","scale":{"type":"log","base":2,"domain":[1068,3666],"nice":false},"axis":{"values":[2048],"labelExpr":"'2¹¹'"}},
"y":{"field":"cdf","type":"quantitative","scale":{"domain":[0,1],"nice":false},"axis":{"values":[0,0.5,1],"labels":false,"title":null,"grid":true,"gridDash":[1.5,2],"gridColor":"#999","gridWidth":0.8,"gridOpacity":{"condition":{"test":"datum.value===0.5","value":1},"value":0}}},
"color":{"field":"series","type":"nominal","legend":null}
},
"layer":[
{"data":{"name":"VP"},"mark":{"type":"line","clip":true,"strokeWidth":1.8,"opacity":0.85},"encoding":{}},
{"data":{"name":"vlines"},"transform":[{"filter":"datum.panel==='VP'"}],"mark":{"type":"rule","strokeDash":[2,2],"strokeWidth":1.8},"encoding":{"y":{"field":"top","type":"quantitative"},"y2":{"datum":0}}},
{"data":{"name":"VP"},"transform":[{"filter":"datum.mk===1"}],"mark":{"type":"point","filled":true,"size":100,"opacity":0.9,"clip":true},"encoding":{"shape":{"field":"series","type":"nominal","legend":null}}}
]}
]
}
